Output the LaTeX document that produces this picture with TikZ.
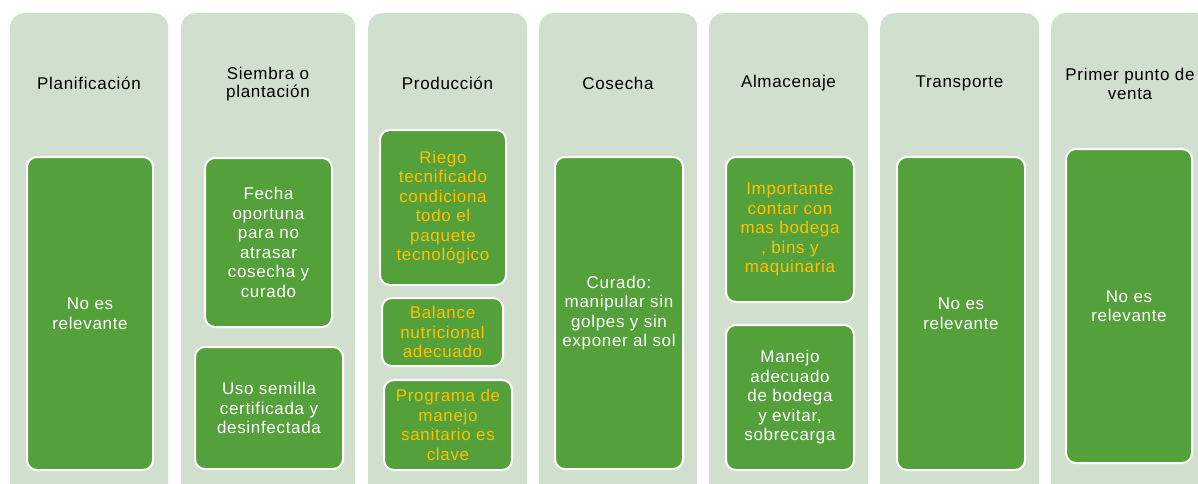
\documentclass[tikz,border=0pt]{standalone}
\usepackage{fontspec}
\setmainfont{Liberation Sans}[LetterSpace=4]
\usetikzlibrary{positioning}
\definecolor{stagebg}{RGB}{209,223,206}
\definecolor{cellgreen}{RGB}{84,160,58}
\definecolor{cellgold}{RGB}{255,192,0}

\begin{document}
\begin{tikzpicture}[x=1pt, y=-1pt,
      stage/.style={rounded corners=14pt, fill=stagebg, anchor=north west, minimum height=500pt, inner sep=0pt},
      stagetitle/.style={align=center, inner sep=0pt, font=\fontsize{17}{18.5}\selectfont, text=black},
      cell/.style={rounded corners=10pt, draw=white, line width=2pt, fill=cellgreen, align=center, inner sep=0pt, font=\fontsize{17}{19.5}\selectfont, text=white},
      gold/.style={text=cellgold}
    ]
      \useasboundingbox (0,0) rectangle (1198,484);
      \clip (0,0) rectangle (1198,484);

      % Column 1: Planificación
      \node[stage, minimum width=158pt] (planif) at (10,13) {};
      \node[stagetitle] (planif-t) at (89,83) {Planificación};
      \node[cell, minimum width=126pt, minimum height=313pt] (planif-a) at (90,313.5) {No es\\relevante};

      % Column 2: Siembra o plantación
      \node[stage, minimum width=174pt] (siembra) at (181,13) {};
      \node[stagetitle] (siembra-t) at (268,84) {Siembra o\\plantación};
      \node[cell, minimum width=127pt, minimum height=169pt] (siembra-a) at (268.5,242.5) {Fecha\\oportuna\\para no\\atrasar\\cosecha y\\curado};
      \node[cell, minimum width=148pt, minimum height=122pt] (siembra-b) at (269,408) {Uso semilla\\certificada y\\desinfectada};

      % Column 3: Producción
      \node[stage, minimum width=159pt] (produc) at (368,13) {};
      \node[stagetitle] (produc-t) at (447.5,83) {Producción};
      \node[cell, gold, minimum width=126pt, minimum height=155pt] (produc-a) at (443,207.5) {Riego\\tecnificado\\condiciona\\todo el\\paquete\\tecnológico};
      \node[cell, gold, minimum width=121pt, minimum height=68pt] (produc-b) at (442.5,332) {Balance\\nutricional\\adecuado};
      \node[cell, gold, minimum width=128pt, minimum height=90pt] (produc-c) at (448,425) {Programa de\\manejo\\sanitario es\\clave};

      % Column 4: Cosecha
      \node[stage, minimum width=158pt] (cosecha) at (539,13) {};
      \node[stagetitle] (cosecha-t) at (618,83) {Cosecha};
      \node[cell, minimum width=128pt, minimum height=312pt] (cosecha-a) at (619,313) {Curado:\\manipular sin\\golpes y sin\\exponer al sol};

      % Column 5: Almacenaje
      \node[stage, minimum width=159pt] (almac) at (709,13) {};
      \node[stagetitle] (almac-t) at (788.5,83) {Almacenaje};
      \node[cell, gold, minimum width=128pt, minimum height=145pt] (almac-a) at (790,229.5) {Importante\\contar con\\mas bodega\\, bins y\\maquinaria};
      \node[cell, minimum width=128pt, minimum height=145pt] (almac-b) at (790,397.5) {Manejo\\adecuado\\de bodega\\y evitar,\\sobrecarga};

      % Column 6: Transporte
      \node[stage, minimum width=159pt] (transp) at (880,13) {};
      \node[stagetitle] (transp-t) at (959.5,83) {Transporte};
      \node[cell, minimum width=128pt, minimum height=313pt] (transp-a) at (961,313.5) {No es\\relevante};

      % Column 7: Primer punto de venta
      \node[stage, minimum width=158pt] (venta) at (1051,13) {};
      \node[stagetitle] (venta-t) at (1130,84) {Primer punto de\\venta};
      \node[cell, minimum width=126pt, minimum height=314pt] (venta-a) at (1129,306) {No es\\relevante};
    \end{tikzpicture}
\end{document}
